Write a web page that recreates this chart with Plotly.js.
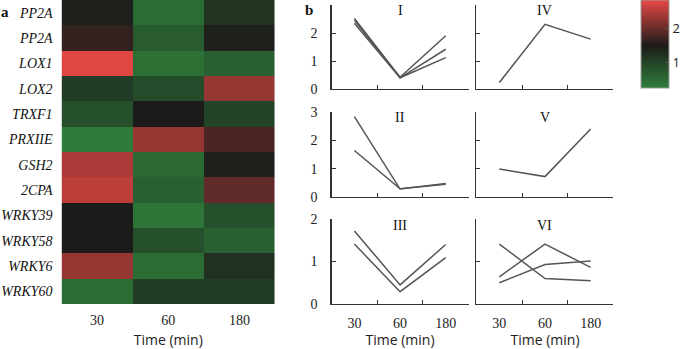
<!DOCTYPE html>
<html>
<head>
<meta charset="utf-8">
<script src="https://cdn.plot.ly/plotly-3.0.1.min.js"></script>
<style>
  body { margin: 0; background: #fff; }
  #plot { width: 685px; height: 349px; }
</style>
</head>
<body>
<div id="plot"></div>
<script>
// heatmap data (panel a)
var genes = ["PP2A", "PP2A", "LOX1", "LOX2", "TRXF1", "PRXIIE", "GSH2", "2CPA", "WRKY39", "WRKY58", "WRKY6", "WRKY60"];
var times = ["30", "60", "180"];
var expr = [
  [1.45, 0.50, 1.20],
  [1.65, 0.70, 1.45],
  [2.80, 0.45, 0.65],
  [1.10, 0.90, 2.30],
  [0.85, 1.50, 1.00],
  [0.30, 2.30, 1.80],
  [2.45, 0.55, 1.45],
  [2.55, 0.65, 1.95],
  [1.50, 0.40, 0.85],
  [1.50, 0.85, 0.65],
  [2.30, 0.50, 1.25],
  [0.50, 1.10, 1.10]
];

// cluster profiles (panel b)
var clusterI   = [[2.52, 0.42, 1.90], [2.45, 0.40, 1.42], [2.35, 0.40, 1.12]];
var clusterII  = [[2.84, 0.28, 0.48], [1.64, 0.29, 0.45]];
var clusterIII = [[1.72, 0.45, 1.40], [1.41, 0.29, 1.09]];
var clusterIV  = [[0.23, 2.31, 1.78]];
var clusterV   = [[0.99, 0.72, 2.40]];
var clusterVI  = [[1.41, 0.60, 0.55], [0.64, 1.41, 0.86], [0.50, 0.93, 1.01]];

var serif = "Liberation Serif";
var sans = "Open Sans";

var data = [];

data.push({
  type: "heatmap",
  z: expr,
  x: [0, 1, 2],
  y: genes.map((g, i) => i),
  zmin: 0.26,
  zmax: 2.85,
  colorscale: [[0, "#2f7f3b"], [0.48, "#1c1c1a"], [1, "#e84844"]],
  colorbar: {
    x: 646 / 685, xanchor: "left",
    y: 1, yanchor: "top",
    thickness: 28, thicknessmode: "pixels",
    len: 88, lenmode: "pixels",
    outlinewidth: 1, outlinecolor: "#999",
    tickvals: [1, 2],
    ticks: "inside", ticklen: 4, tickcolor: "#555",
    tickfont: {family: sans, size: 13, color: "#222"},
    xpad: 0, ypad: 0
  }
});

var panels = [
  {lines: clusterI,   ax: 2, name: "I"},
  {lines: clusterIV,  ax: 3, name: "IV"},
  {lines: clusterII,  ax: 4, name: "II"},
  {lines: clusterV,   ax: 5, name: "V"},
  {lines: clusterIII, ax: 6, name: "III"},
  {lines: clusterVI,  ax: 7, name: "VI"}
];

panels.forEach(function (p) {
  p.lines.forEach(function (vals) {
    data.push({
      type: "scatter",
      mode: "lines",
      x: times,
      y: vals,
      xaxis: "x" + p.ax,
      yaxis: "y" + p.ax,
      line: {color: "#555", width: 1.5},
      showlegend: false,
      hoverinfo: "skip"
    });
  });
});

var H = 349, W = 685;
function yd(top, bot) { return [1 - bot / H, 1 - top / H]; }
var colX = [[334 / W, 472 / W], [480 / W, 618 / W]];
var rowY = [yd(5, 89), yd(112, 197), yd(219, 304)];
var rowMax = [3, 3, 2];

var layout = {
  width: W,
  height: H,
  margin: {l: 0, r: 0, t: 0, b: 0},
  paper_bgcolor: "#fff",
  plot_bgcolor: "rgba(0,0,0,0)",
  showlegend: false,
  xaxis: {
    domain: [62 / W, 277 / W],
    range: [-0.5, 2.5],
    tickvals: [0, 1, 2],
    ticktext: times,
    ticks: "",
    showgrid: false, zeroline: false,
    tickfont: {family: serif, size: 14, color: "#222"},
    ticklabelstandoff: 6,
    title: {text: "Time (min)", font: {family: sans, size: 14, color: "#222"}, standoff: 14}
  },
  yaxis: {
    domain: yd(0, 304),
    range: [11.5, -0.5],
    tickvals: genes.map((g, i) => i),
    ticktext: genes.map(g => "<i>" + g + "</i>"),
    ticks: "",
    showgrid: false, zeroline: false,
    tickfont: {family: serif, size: 14, color: "#111"},
    ticklabelstandoff: 8
  },
  annotations: [
    {text: "<b>a</b>", x: 5 / W, y: 1 - 12 / H, xref: "paper", yref: "paper",
     xanchor: "center", yanchor: "middle", showarrow: false,
     font: {family: serif, size: 15, color: "#111"}},
    {text: "<b>b</b>", x: 311 / W, y: 1 - 10 / H, xref: "paper", yref: "paper",
     xanchor: "center", yanchor: "middle", showarrow: false,
     font: {family: serif, size: 15, color: "#111"}}
  ]
};

var titleY = [10, 117, 225];

panels.forEach(function (p, i) {
  var row = Math.floor(i / 2), col = i % 2;
  var xa = "xaxis" + p.ax, ya = "yaxis" + p.ax;
  var ticks = [];
  for (var t = 0; t <= rowMax[row]; t++) ticks.push(t);
  var labels = ticks.map(function (t) {
    return (row === 0 && t === 3) ? "" : String(t);
  });
  layout[xa] = {
    domain: colX[col],
    anchor: "y" + p.ax,
    type: "category",
    categoryarray: times,
    range: [-0.5, 2.5],
    tickson: "boundaries",
    ticks: "inside", ticklen: 4, tickcolor: "#333",
    showline: true, linecolor: "#333", linewidth: 1.2,
    showgrid: false, zeroline: false,
    showticklabels: row === 2,
    tickfont: {family: serif, size: 14, color: "#222"},
    ticklabelstandoff: 6,
    title: row === 2 ? {text: "Time (min)", font: {family: sans, size: 14, color: "#222"}, standoff: 14} : {text: ""}
  };
  layout[ya] = {
    domain: rowY[row],
    anchor: "x" + p.ax,
    range: [0, rowMax[row]],
    tickvals: ticks,
    ticktext: labels,
    ticks: "inside", ticklen: 4, tickcolor: "#333",
    showline: true, linecolor: "#333", linewidth: 1.2,
    showgrid: false, zeroline: false,
    showticklabels: col === 0,
    tickfont: {family: serif, size: 14, color: "#222"},
    ticklabelstandoff: 10
  };
  layout.annotations.push({
    text: p.name,
    x: 1, y: 1 - titleY[row] / H,
    xref: "x" + p.ax, yref: "paper",
    xanchor: "center", yanchor: "middle", showarrow: false,
    font: {family: serif, size: 14, color: "#111"}
  });
});

Plotly.newPlot("plot", data, layout, {staticPlot: true});
</script>
</body>
</html>
